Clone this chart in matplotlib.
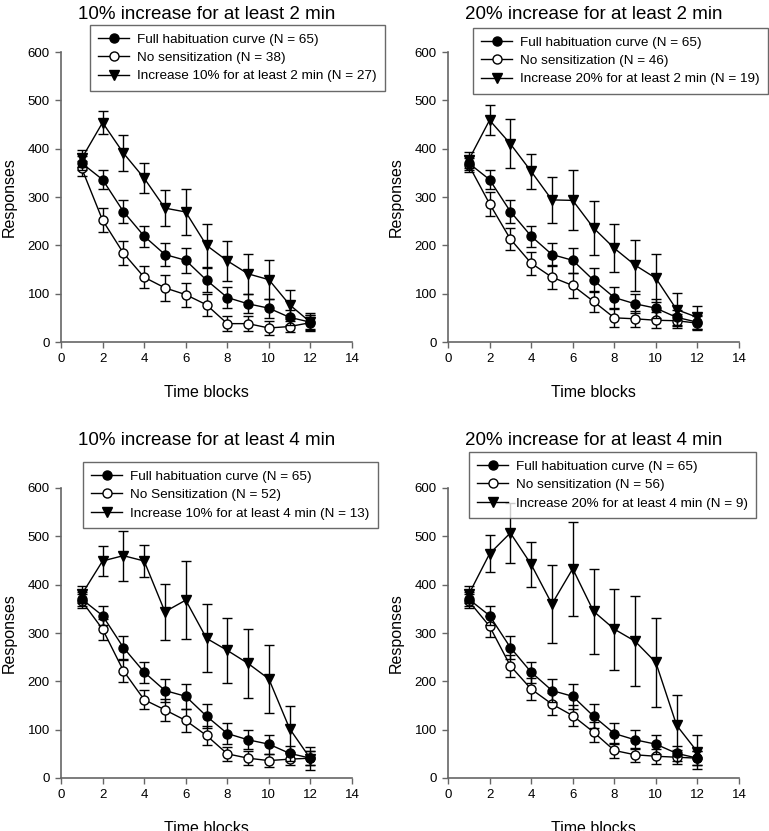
import numpy as np
import matplotlib.pyplot as plt
from matplotlib.lines import Line2D

plt.rcParams['font.family'] = ['Liberation Sans', 'DejaVu Sans']

blocks = list(range(1, 13))

# full habituation curve, same in all four panels
full_mean = [370, 336, 270, 219, 181, 169, 128, 92, 79, 70, 51, 41]
full_err = [15, 20, 24, 22, 24, 26, 25, 21, 20, 20, 15, 15]

titles = ['10% increase for at least 2 min', '20% increase for at least 2 min',
          '10% increase for at least 4 min', '20% increase for at least 4 min']
nosens_labels = ['No sensitization (N = 38)', 'No sensitization (N = 46)',
                 'No Sensitization (N = 52)', 'No sensitization (N = 56)']
inc_labels = ['Increase 10% for at least 2 min (N = 27)', 'Increase 20% for at least 2 min (N = 19)',
              'Increase 10% for at least 4 min (N = 13)', 'Increase 20% for at least 4 min (N = 9)']

nosens_mean = [
    [359, 252, 184, 134, 112, 98, 77, 38, 38, 29, 32, 40],
    [366, 286, 213, 163, 134, 117, 84, 50, 48, 45, 44, 39],
    [366, 308, 222, 162, 141, 119, 88, 50, 41, 36, 39, 41],
    [366, 314, 232, 184, 153, 129, 95, 57, 48, 45, 43, 41],
]
nosens_err = [
    [15, 25, 24, 23, 27, 25, 23, 15, 16, 15, 12, 15],
    [15, 25, 22, 24, 25, 25, 22, 18, 17, 17, 14, 14],
    [14, 22, 23, 20, 23, 23, 20, 15, 14, 14, 13, 14],
    [14, 22, 22, 22, 22, 22, 21, 15, 15, 15, 14, 14],
]
inc_mean = [
    [380, 454, 391, 339, 277, 269, 200, 168, 141, 129, 77, 41],
    [377, 459, 410, 353, 294, 293, 236, 194, 159, 132, 67, 51],
    [380, 449, 460, 449, 344, 368, 289, 264, 237, 205, 102, 40],
    [380, 464, 507, 442, 360, 433, 345, 308, 283, 239, 109, 54],
]
inc_err = [
    [17, 24, 38, 31, 38, 48, 44, 41, 41, 40, 30, 18],
    [17, 31, 51, 36, 48, 62, 56, 50, 53, 50, 34, 24],
    [18, 31, 52, 34, 58, 80, 70, 67, 72, 70, 48, 24],
    [17, 38, 63, 46, 80, 97, 88, 84, 93, 92, 62, 36],
]

W, H = 769, 831
rects = [(61, 52), (448, 52), (61, 488), (448, 488)]  # left, top in pixels
legend_pos = [(90, 25), (473, 28), (83, 462), (469, 452)]

fig = plt.figure(figsize=(W / 100, H / 100), dpi=100)

for i in range(4):
    l, t = rects[i]
    ax = fig.add_axes([l / W, 1 - (t + 290) / H, 291 / W, 290 / H])
    kw = dict(color='black', lw=1, capsize=3.8, elinewidth=1, capthick=1, markersize=6.5,
              markeredgewidth=1)
    ax.errorbar(blocks, full_mean, yerr=full_err, fmt='-o', mfc='black', mec='black', zorder=3, **kw)
    ax.errorbar(blocks, nosens_mean[i], yerr=nosens_err[i], fmt='-o', mfc='white', mec='black',
                zorder=2, **kw)
    ax.errorbar(blocks, inc_mean[i], yerr=inc_err[i], fmt='-v', mfc='black', mec='black',
                zorder=4, **kw)
    ax.set_xlim(0, 14)
    ax.set_ylim(0, 600)
    ax.set_xticks(range(0, 15, 2))
    ax.set_yticks(range(0, 601, 100))
    for s in ['top', 'right']:
        ax.spines[s].set_visible(False)
    for s in ['left', 'bottom']:
        ax.spines[s].set_color('#666666')
        ax.spines[s].set_linewidth(1.2)
    ax.tick_params(direction='out', length=4, width=1, color='#666666', labelsize=9.5, pad=4)
    ax.set_xlabel('Time blocks', fontsize=11.5, labelpad=14)
    ax.set_ylabel('Responses', fontsize=11.5, labelpad=8)
    ax.set_title(titles[i], fontsize=13.5, pad=24 if i < 2 else 31)

    handles = [
        Line2D([], [], color='black', lw=1, marker='o', mfc='black', mec='black', markersize=6.5),
        Line2D([], [], color='black', lw=1, marker='o', mfc='white', mec='black', markersize=6.5),
        Line2D([], [], color='black', lw=1, marker='v', mfc='black', mec='black', markersize=6.5),
    ]
    labels = ['Full habituation curve (N = 65)', nosens_labels[i], inc_labels[i]]
    lx, ly = legend_pos[i]
    leg = ax.legend(handles, labels, loc='upper left',
                    bbox_to_anchor=(lx / W, 1 - ly / H), bbox_transform=fig.transFigure,
                    fontsize=9.7, frameon=True, fancybox=False, handlelength=2.3,
                    borderpad=0.6, labelspacing=0.45, handletextpad=0.6, borderaxespad=0)
    leg.get_frame().set_edgecolor('#444444')
    leg.get_frame().set_linewidth(1)
    leg.set_zorder(10)

fig.savefig('out.png', dpi=100)
